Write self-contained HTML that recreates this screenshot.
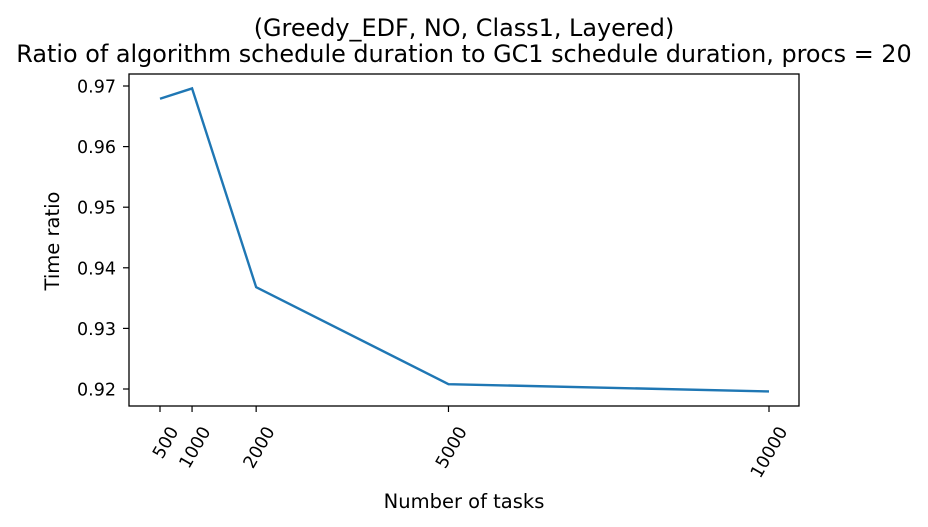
<!DOCTYPE html>
<html><head><meta charset="utf-8"><style>
body{margin:0;background:#fff;}
svg{display:block;font-family:"DejaVu Sans","Liberation Sans",sans-serif;}
</style></head><body>
<svg id="chart" width="928" height="527"></svg>
<script>
const categories=[500,1000,2000,5000,10000];
const values=[0.9679,0.9696,0.9368,0.9208,0.9196];
const yTicks=[0.92,0.93,0.94,0.95,0.96,0.97];
const yTickLabels=["0.92","0.93","0.94","0.95","0.96","0.97"];
const NS="http://www.w3.org/2000/svg";
const svg=document.getElementById('chart');
const L=129,R=799,T=74,B=406;
function xs(v){return 160+(v-500)*(769-160)/9500;}
function ys(v){return 389+(0.92-v)*(389-86)/0.05;}
function mk(tag,attrs,parent){const e=document.createElementNS(NS,tag);for(const k in attrs)e.setAttribute(k,attrs[k]);(parent||svg).appendChild(e);return e;}
function txt(s,attrs){const e=mk('text',attrs);e.textContent=s;return e;}
let t=txt('(Greedy_EDF, NO, Class1, Layered)',{x:464,y:36,'text-anchor':'middle','font-size':23.9,fill:'#000'});


t=txt('Ratio of algorithm schedule duration to GC1 schedule duration, procs = 20',{x:464,y:62,'text-anchor':'middle','font-size':23.9,fill:'#000'});


yTicks.forEach((v,i)=>{
  const y=ys(v);
  const l=mk('line',{x1:L-6,x2:L,y1:y,y2:y,stroke:'#000','stroke-width':1.2});
  
  
  const tt=txt(yTickLabels[i],{x:L-13,y:y+6.5,'text-anchor':'end','font-size':17.5,fill:'#000'});
  
  
});
categories.forEach(c=>{
  const x=xs(c);
  const l=mk('line',{x1:x,x2:x,y1:B,y2:B+6,stroke:'#000','stroke-width':1.2});
  
  
  const tt=txt(String(c),{x:0,y:0,'text-anchor':'end','font-size':17.5,fill:'#000',transform:`translate(${x+19},${B+25}) rotate(-60)`});
  
  
});
const pts=categories.map((c,i)=>xs(c)+','+ys(values[i])).join(' ');
const pl=mk('polyline',{points:pts,fill:'none',stroke:'#1f77b4','stroke-width':2.4,'stroke-linejoin':'miter'});


const fr=mk('rect',{x:L,y:T,width:R-L,height:B-T,fill:'none',stroke:'#000','stroke-width':1.3});


t=txt('Number of tasks',{x:464,y:508,'text-anchor':'middle','font-size':19.5,fill:'#000'});


t=txt('Time ratio',{x:0,y:0,'text-anchor':'middle','font-size':19.5,fill:'#000',transform:'translate(59,241) rotate(-90)'});


</script>
</body></html>
